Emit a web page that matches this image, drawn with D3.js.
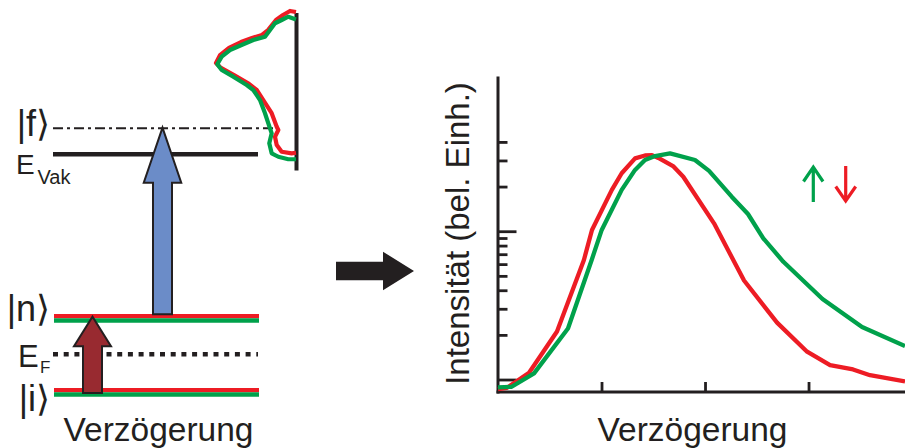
<!DOCTYPE html>
<html><head><meta charset="utf-8">
<script src="https://cdn.jsdelivr.net/npm/d3@7"></script>
<style>
html,body{margin:0;padding:0;background:#fff;}
svg{display:block;font-family:"Liberation Sans",Arial,Helvetica,sans-serif;}
</style></head><body>
<svg id="chart" width="905" height="448"></svg>
<script>
// ---- Time-resolved intensity traces (log intensity vs. delay) ----
const delayRed = [0, 0.087, 0.30, 0.57, 0.83, 0.908, 1.10, 1.195, 1.324, 1.42, 1.488, 1.549, 1.691, 1.79, 2.087, 2.377, 2.696, 2.986, 3.208, 3.43, 3.594, 3.932];
const intensityRed = [0.86, 0.88, 1.11, 2.11, 6.4, 10.2, 19.0, 24.6, 31.0, 32.4, 32.6, 31.2, 27.5, 23.3, 11.3, 4.65, 2.42, 1.54, 1.25, 1.17, 1.07, 0.97];
const delayGreen = [0, 0.132, 0.348, 0.676, 0.905, 1.002, 1.195, 1.324, 1.42, 1.517, 1.662, 1.903, 2.039, 2.258, 2.415, 2.563, 2.757, 3.135, 3.517, 3.932];
const intensityGreen = [0.886, 0.894, 1.10, 2.21, 6.4, 10.2, 19.0, 25.9, 30.2, 32.1, 33.5, 30.2, 25.5, 17.1, 13.06, 8.96, 6.22, 3.49, 2.26, 1.68];
const xTickValues = [1, 2, 3];
const yTickValues = [1, 2, 3, 4, 5, 6, 7, 8, 9, 10, 20, 30, 40];
const yMajorTicks = [1, 10];

// ---- Photoemission spectrum (normalised intensity vs. normalised energy) ----
const specIntRed = [0, 0.075, 0.1625, 0.25, 0.35, 0.425, 0.55, 0.6875, 0.8375, 0.95, 1.0, 0.9375, 0.775, 0.5875, 0.491, 0.409, 0.304, 0.241, 0.221, 0.2625, 0.241, 0.179, 0.054, 0];
const specEnergyRed = [1.0, 1.007, 0.98, 0.946, 0.878, 0.845, 0.824, 0.797, 0.757, 0.709, 0.655, 0.622, 0.574, 0.514, 0.473, 0.405, 0.316, 0.225, 0.203, 0.157, 0.101, 0.056, 0.045, 0.049];
const specIntGreen = [0, 0.096, 0.179, 0.2625, 0.325, 0.3875, 0.534, 0.659, 0.825, 0.929, 0.984, 0.929, 0.784, 0.616, 0.534, 0.45, 0.3875, 0.346, 0.304, 0.334, 0.304, 0.221, 0.096, 0];
const specEnergyGreen = [0.95, 0.968, 0.946, 0.924, 0.878, 0.833, 0.811, 0.782, 0.743, 0.698, 0.647, 0.608, 0.563, 0.507, 0.473, 0.405, 0.316, 0.248, 0.18, 0.113, 0.045, 0.022, 0.005, 0.005];

// ---- Energy levels of the scheme (arb. energy units) ----
const levelKeys = ["i", "EF", "n", "Evak", "f"];
const levelEnergies = [0, 0.95, 1.85, 5.95, 6.6];

const RED = "#ed1c24", GREEN = "#00a14b", INK = "#231f20";
const svg = d3.select("#chart");
const E = Object.fromEntries(levelKeys.map((k, i) => [k, levelEnergies[i]]));

// ================= Left: energy scheme =================
const yE = d3.scaleLinear().domain([0, 7]).range([392.3, 112.3]);
const left = svg.append("g");

// |f> : dash-dot line
left.append("line").attr("x1", 53).attr("x2", 279)
  .attr("y1", yE(E.f)).attr("y2", yE(E.f))
  .attr("stroke", INK).attr("stroke-width", 2).attr("stroke-dasharray", "10,4,3,4");
// vacuum level
left.append("line").attr("x1", 53).attr("x2", 258)
  .attr("y1", yE(E.Evak)).attr("y2", yE(E.Evak))
  .attr("stroke", INK).attr("stroke-width", 4.5);
// Fermi level (dotted)
left.append("line").attr("x1", 53).attr("x2", 258)
  .attr("y1", yE(E.EF)).attr("y2", yE(E.EF))
  .attr("stroke", INK).attr("stroke-width", 4.5).attr("stroke-dasharray", "5,5.7");
// |n> and |i> : red/green pairs
["n", "i"].forEach(k => {
  const y0 = yE(E[k]);
  left.append("line").attr("x1", 54).attr("x2", 259).attr("y1", y0 - 2.2).attr("y2", y0 - 2.2)
    .attr("stroke", RED).attr("stroke-width", 4.4);
  left.append("line").attr("x1", 54).attr("x2", 259).attr("y1", y0 + 2.2).attr("y2", y0 + 2.2)
    .attr("stroke", GREEN).attr("stroke-width", 4.4);
});

function arrowPath(cx, yTail, yTip, headW, headLen, shaftW) {
  const yb = yTip + headLen;
  return `M${cx - shaftW / 2},${yTail} L${cx - shaftW / 2},${yb} L${cx - headW / 2},${yb} L${cx},${yTip} ` +
         `L${cx + headW / 2},${yb} L${cx + shaftW / 2},${yb} L${cx + shaftW / 2},${yTail} Z`;
}
// probe transition |n> -> |f>
left.append("path")
  .attr("d", arrowPath(162.5, yE(E.n) - 4, yE(E.f) - 0.6, 37.5, 55, 19))
  .attr("fill", "#6b8cc8").attr("stroke", INK).attr("stroke-width", 2).attr("stroke-linejoin", "miter");
// pump transition |i> -> |n>
left.append("path")
  .attr("d", arrowPath(92.5, yE(E.i) + 0.8, yE(E.n) - 1.6, 37, 29.5, 19))
  .attr("fill", "#982a30").attr("stroke", INK).attr("stroke-width", 2).attr("stroke-linejoin", "miter");

// level labels
const lab = left.append("g").attr("fill", INK);
lab.append("text").attr("x", 50).attr("y", 135.5).attr("text-anchor", "end").attr("font-size", 36).text("|f⟩");
lab.append("text").attr("x", 50).attr("y", 320.5).attr("text-anchor", "end").attr("font-size", 36).text("|n⟩");
lab.append("text").attr("x", 50).attr("y", 410.5).attr("text-anchor", "end").attr("font-size", 36).text("|i⟩");
const tv = lab.append("text").attr("x", 16).attr("y", 173.5).attr("font-size", 28);
tv.append("tspan").text("E");
tv.append("tspan").attr("x", 37.5).attr("y", 183.5).attr("font-size", 20).text("Vak");
const tf = lab.append("text").attr("x", 18).attr("y", 366.5).attr("font-size", 31);
tf.append("tspan").text("E");
tf.append("tspan").attr("x", 40).attr("y", 372.5).attr("font-size", 17).text("F");
lab.append("text").attr("x", 158.5).attr("y", 441).attr("text-anchor", "middle").attr("font-size", 33.5).text("Verzögerung");

// ---- spectrum at the top of the scheme ----
const sx = d3.scaleLinear().domain([0, 1]).range([296, 216]);
const sy = d3.scaleLinear().domain([0, 1]).range([160, 12]);
const specLine = d3.line().x(d => sx(d[0])).y(d => sy(d[1]));
left.append("line").attr("x1", 296.5).attr("x2", 296.5).attr("y1", 13).attr("y2", 170.5)
  .attr("stroke", INK).attr("stroke-width", 4);
left.append("path").datum(d3.zip(specIntRed, specEnergyRed)).attr("d", specLine)
  .attr("fill", "none").attr("stroke", RED).attr("stroke-width", 4.2).attr("stroke-linejoin", "round");
left.append("path").datum(d3.zip(specIntGreen, specEnergyGreen)).attr("d", specLine)
  .attr("fill", "none").attr("stroke", GREEN).attr("stroke-width", 4.2).attr("stroke-linejoin", "round");

// ---- big arrow between panels ----
svg.append("path")
  .attr("d", "M336,261.7 L383,261.7 L383,251.7 L414,271 L383,290.3 L383,280.3 L336,280.3 Z")
  .attr("fill", INK);

// ================= Right: intensity vs. delay =================
const x = d3.scaleLinear().domain([0, 3.932]).range([498, 905]);
const y = d3.scaleLog().domain([0.824, 109.6]).range([392, 77]);
const right = svg.append("g");

const xAxis = right.append("g").attr("transform", "translate(0,392)")
  .call(d3.axisTop(x).tickValues(xTickValues).tickSize(10).tickSizeOuter(0).tickFormat(""));
const yAxis = right.append("g").attr("transform", "translate(498,0)")
  .call(d3.axisRight(y).tickValues(yTickValues).tickSize(9.5).tickSizeOuter(0).tickFormat(""));
yAxis.selectAll(".tick line").filter(d => yMajorTicks.includes(d)).attr("x2", 18.5);
[xAxis, yAxis].forEach(a => {
  a.selectAll("path.domain").attr("stroke", INK).attr("stroke-width", 3);
  a.selectAll(".tick line").attr("stroke", INK).attr("stroke-width", 2.8);
});
yAxis.select("path.domain").attr("d", "M0,76.5V393.5");
xAxis.select("path.domain").attr("d", `M${x.range()[0] - 1.5},0H907`);

const line = d3.line().x(d => x(d[0])).y(d => y(d[1]));
right.append("path").datum(d3.zip(delayRed, intensityRed)).attr("d", line)
  .attr("fill", "none").attr("stroke", RED).attr("stroke-width", 4.3).attr("stroke-linejoin", "round");
right.append("path").datum(d3.zip(delayGreen, intensityGreen)).attr("d", line)
  .attr("fill", "none").attr("stroke", GREEN).attr("stroke-width", 4.3).attr("stroke-linejoin", "round");

// spin-direction arrows
right.append("path").attr("d", "M813.3,202 V167.5 M803.5,181.5 L813.3,167 L823,181.5")
  .attr("fill", "none").attr("stroke", GREEN).attr("stroke-width", 3.2);
right.append("path").attr("d", "M845.7,166 V200.5 M835.7,186.5 L845.7,201 L855.7,186.5")
  .attr("fill", "none").attr("stroke", RED).attr("stroke-width", 3.2);

// axis titles
right.append("text").attr("x", 692.5).attr("y", 441).attr("text-anchor", "middle")
  .attr("font-size", 33.5).attr("fill", INK).text("Verzögerung");
right.append("text").attr("transform", "translate(469,233.5) rotate(-90)").attr("text-anchor", "middle")
  .attr("font-size", 33).attr("fill", INK).text("Intensität (bel. Einh.)");
</script>
</body></html>
